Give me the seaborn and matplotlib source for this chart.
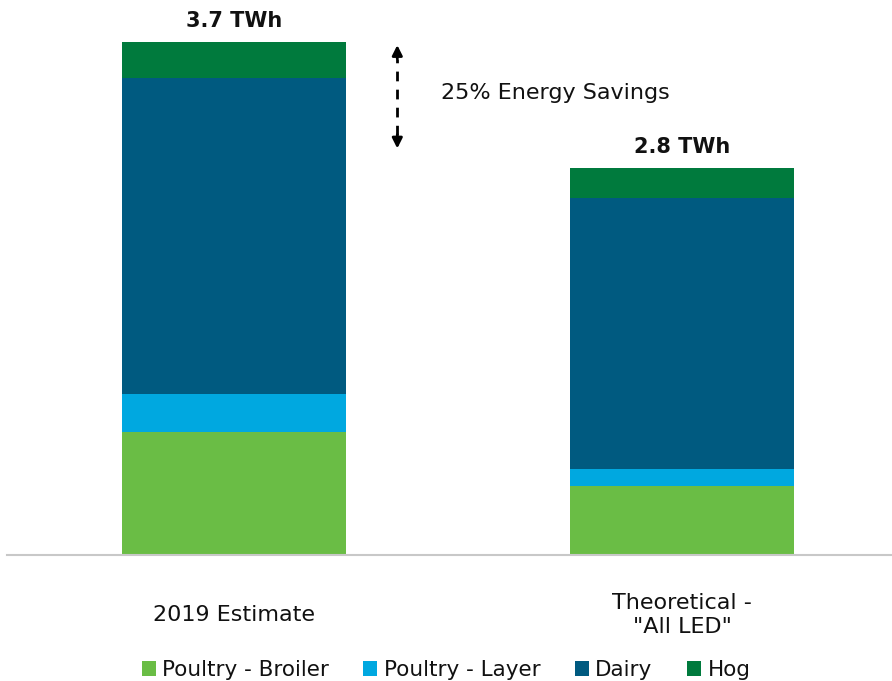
import matplotlib
matplotlib.use("Agg")
import matplotlib.pyplot as plt
from matplotlib.patches import Patch
import numpy as np
import pandas as pd
import seaborn as sns

# Lighting energy use by livestock segment (TWh)
scenarios = ["2019 Estimate", 'Theoretical -\n"All LED"']
segments = ["Poultry - Broiler", "Poultry - Layer", "Dairy", "Hog"]
broiler = [0.89, 0.50]
layer = [0.27, 0.12]
dairy = [2.28, 1.95]
hog = [0.26, 0.22]
savings_label = "25% Energy Savings"

colors = ["#6ABD45", "#00A8E0", "#005A80", "#007A3D"]

sns.set_theme(style="white")
plt.rcParams["font.family"] = ["DejaVu Sans"]

fig = plt.figure(figsize=(8.92, 6.81), dpi=100)
ax = fig.add_axes([7 / 892, 126 / 681, 885 / 892, 555 / 681])

series = [broiler, layer, dairy, hog]
bottom = np.zeros(len(scenarios))
for name, vals, col in zip(segments, series, colors):
    df = pd.DataFrame({"scenario": scenarios, "twh": vals})
    sns.barplot(data=df, x="scenario", y="twh", color=col, width=0.5,
                bottom=bottom.copy(), errorbar=None, linewidth=0,
                saturation=1, ax=ax)
    bottom += np.array(vals)

# Totals above each bar
for i, total in enumerate(bottom):
    ax.annotate(f"{total:.1f} TWh", xy=(i, total), xytext=(0, 8),
                textcoords="offset points", ha="center", va="bottom",
                fontsize=15, fontweight="bold", color="#111111")

# Savings arrow between the two totals
ax_x = 0.364
y_hi, y_lo = 3.675, 2.93
ax.plot([ax_x, ax_x], [y_lo + 0.1, y_hi - 0.1], color="black", lw=2,
        ls=(0, (3.5, 3)))
ax.annotate("", xy=(ax_x, y_hi), xytext=(ax_x, y_hi - 0.1),
            arrowprops=dict(arrowstyle="-|>", color="black", lw=2,
                            mutation_scale=15, shrinkA=0, shrinkB=0))
ax.annotate("", xy=(ax_x, y_lo), xytext=(ax_x, y_lo + 0.1),
            arrowprops=dict(arrowstyle="-|>", color="black", lw=2,
                            mutation_scale=15, shrinkA=0, shrinkB=0))
ax.text(0.462, 3.33, savings_label, ha="left", va="center", fontsize=16,
        color="#111111")

ax.set_xlim(-0.507, 1.468)
ax.set_ylim(0, 4.0)
ax.set_xlabel("")
ax.set_ylabel("")
ax.set_yticks([])
for side in ["top", "left", "right"]:
    ax.spines[side].set_visible(False)
ax.spines["bottom"].set_color("#C8C8C8")
ax.spines["bottom"].set_linewidth(1.5)
ax.tick_params(axis="x", length=0, pad=43, labelsize=16, labelcolor="#111111")
for lab in ax.get_xticklabels():
    lab.set_verticalalignment("center")
    lab.set_linespacing(1.25)

handles = [Patch(facecolor=c, edgecolor="none", label=s)
           for s, c in zip(segments, colors)]
fig.legend(handles=handles, loc="center", bbox_to_anchor=(446 / 892, 11 / 681),
           ncol=4, frameon=False, fontsize=15.5, handlelength=0.65,
           handleheight=0.65, handletextpad=0.3, columnspacing=1.6,
           labelcolor="#111111")

fig.savefig("out.png", dpi=100)
